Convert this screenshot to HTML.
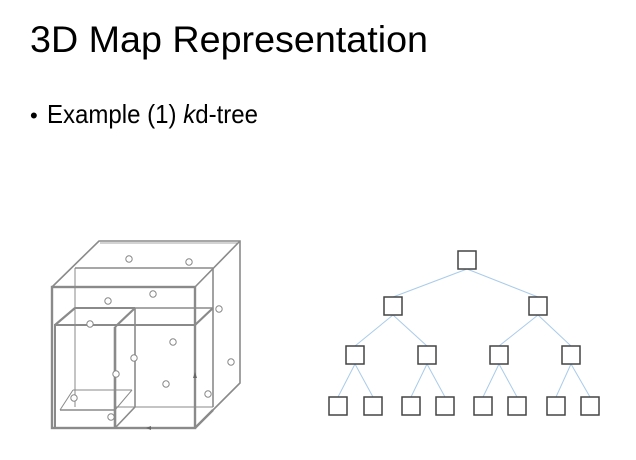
<!DOCTYPE html>
<html><head><meta charset="utf-8"><style>
html,body{margin:0;padding:0;background:#fff;width:636px;height:460px;overflow:hidden}
</style></head><body>
<svg width="636" height="460" viewBox="0 0 636 460" xmlns="http://www.w3.org/2000/svg">
<text x="30" y="52" font-family="Liberation Sans, sans-serif" font-size="37" fill="#000" textLength="398" lengthAdjust="spacingAndGlyphs">3D Map Representation</text>
<text x="30" y="123" font-family="Liberation Sans, sans-serif" font-size="22" fill="#000">•</text>
<text x="47" y="123" font-family="Liberation Sans, sans-serif" font-size="26" fill="#000" textLength="211" lengthAdjust="spacingAndGlyphs">Example (1) <tspan font-style="italic">k</tspan>d-tree</text>

<g fill="none" stroke="#8a8a8a" stroke-width="1.6">
 <!-- outer cube -->
 <rect x="52" y="287" width="143" height="141" stroke-width="2.4"/>
 <polyline points="52,287 99,241 240,241 240,383 195,428"/>
 <line x1="195" y1="287" x2="240" y2="241"/>
 <line x1="100" y1="243" x2="238" y2="243" stroke-width="0.8"/>
 <!-- middle slab -->
 <line x1="75" y1="268" x2="213" y2="268"/>
 <line x1="75" y1="268" x2="75" y2="407" stroke-width="1"/>
 <line x1="213" y1="268" x2="213" y2="407"/>
 <line x1="135" y1="308" x2="213" y2="308"/>
 <line x1="195" y1="325" x2="213" y2="308" stroke-width="2.2"/>
 <line x1="115" y1="407" x2="213" y2="407" stroke-width="1"/>
 <!-- front lower -->
 <rect x="55" y="325" width="140" height="103" stroke-width="2"/>
 <line x1="55" y1="325" x2="75" y2="308" stroke-width="2.2"/>
 <line x1="75" y1="308" x2="135" y2="308" stroke-width="2"/>
 <line x1="115" y1="327" x2="135" y2="308" stroke-width="2.2"/>
 <line x1="115" y1="327" x2="115" y2="428" stroke-width="2.6"/>
 <line x1="135" y1="308" x2="135" y2="407"/>
 <line x1="115" y1="428" x2="135" y2="407"/>
 <line x1="60" y1="410" x2="115" y2="410"/>
 <line x1="73" y1="390" x2="132" y2="390" stroke-width="1"/>
 <line x1="60" y1="410" x2="73" y2="390" stroke-width="1"/>
 <line x1="115" y1="410" x2="132" y2="390" stroke-width="1"/>
 <line x1="195" y1="428" x2="213" y2="410" stroke-width="2.4"/>
</g>
<g fill="#fff" stroke="#888" stroke-width="1">
 <circle cx="129" cy="259" r="3.2"/><circle cx="189" cy="262" r="3.2"/>
 <circle cx="153" cy="294" r="3.2"/><circle cx="108" cy="301" r="3.2"/>
 <circle cx="219" cy="309" r="3.2"/><circle cx="90" cy="324" r="3.2"/>
 <circle cx="173" cy="342" r="3.2"/><circle cx="134" cy="358" r="3.2"/>
 <circle cx="231" cy="362" r="3.2"/><circle cx="116" cy="374" r="3.2"/>
 <circle cx="166" cy="384" r="3.2"/><circle cx="208" cy="394" r="3.2"/>
 <circle cx="74" cy="398" r="3.2"/><circle cx="111" cy="417" r="3.2"/>
</g>
<g fill="#666"><polygon points="195,372 193,378 197,378"/><polygon points="146,428 151,426 151,430"/></g>

<!-- tree -->
<g stroke="#a9cbeb" stroke-width="1">
 <line x1="467" y1="269" x2="393" y2="297"/><line x1="467" y1="269" x2="538" y2="297"/>
 <line x1="393" y1="315" x2="355" y2="346"/><line x1="393" y1="315" x2="427" y2="346"/>
 <line x1="538" y1="315" x2="499" y2="346"/><line x1="538" y1="315" x2="571" y2="346"/>
 <line x1="355" y1="364" x2="338" y2="397"/><line x1="355" y1="364" x2="373" y2="397"/>
 <line x1="427" y1="364" x2="411" y2="397"/><line x1="427" y1="364" x2="445" y2="397"/>
 <line x1="499" y1="364" x2="483" y2="397"/><line x1="499" y1="364" x2="517" y2="397"/>
 <line x1="571" y1="364" x2="556" y2="397"/><line x1="571" y1="364" x2="590" y2="397"/>
</g>
<g fill="#fff" stroke="#444" stroke-width="1.5">
 <rect x="458" y="251" width="18" height="18"/>
 <rect x="384" y="297" width="18" height="18"/><rect x="529" y="297" width="18" height="18"/>
 <rect x="346" y="346" width="18" height="18"/><rect x="418" y="346" width="18" height="18"/>
 <rect x="490" y="346" width="18" height="18"/><rect x="562" y="346" width="18" height="18"/>
 <rect x="329" y="397" width="18" height="18"/><rect x="364" y="397" width="18" height="18"/>
 <rect x="402" y="397" width="18" height="18"/><rect x="436" y="397" width="18" height="18"/>
 <rect x="474" y="397" width="18" height="18"/><rect x="508" y="397" width="18" height="18"/>
 <rect x="547" y="397" width="18" height="18"/><rect x="581" y="397" width="18" height="18"/>
</g>
</svg>
</body></html>
